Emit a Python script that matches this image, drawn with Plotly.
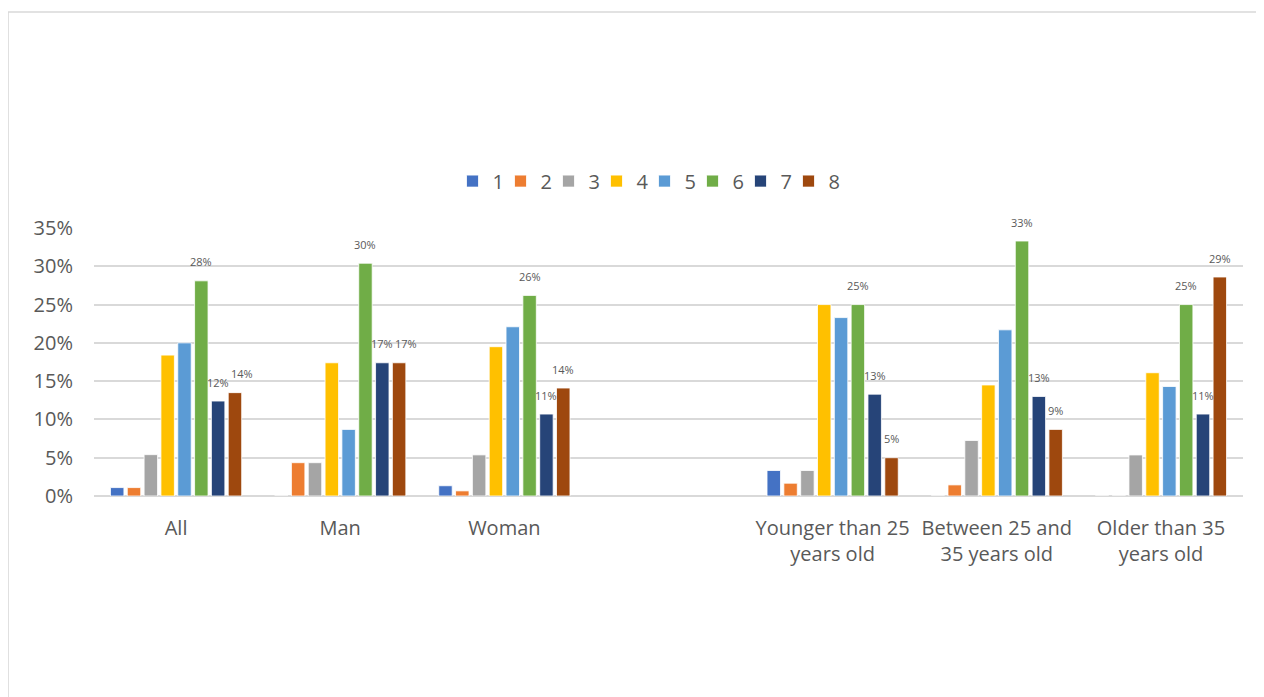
import plotly.graph_objects as go

categories = ["All", "Man", "Woman", " ",
              "Younger than 25<br>years old",
              "Between 25 and<br>35 years old",
              "Older than 35<br>years old"]

series_names = ["1", "2", "3", "4", "5", "6", "7", "8"]
colors = ["#4472C4", "#ED7D31", "#A5A5A5", "#FFC000",
          "#5B9BD5", "#70AD47", "#264478", "#9E480E"]

# values per series, one per category (blank category = None)
s1 = [0.011, 0.0, 0.0134, None, 0.0333, 0.0, 0.0]
s2 = [0.011, 0.0435, 0.0067, None, 0.0167, 0.0145, 0.0]
s3 = [0.054, 0.0435, 0.0537, None, 0.0333, 0.0725, 0.0536]
s4 = [0.184, 0.174, 0.195, None, 0.25, 0.145, 0.161]
s5 = [0.200, 0.087, 0.221, None, 0.233, 0.217, 0.143]
s6 = [0.281, 0.304, 0.262, None, 0.25, 0.333, 0.25]
s7 = [0.124, 0.174, 0.107, None, 0.133, 0.130, 0.107]
s8 = [0.135, 0.174, 0.141, None, 0.05, 0.087, 0.286]

series_values = [s1, s2, s3, s4, s5, s6, s7, s8]
labelled = ["6", "7", "8"]

text_color = "#595959"
grid_color = "#D9D9D9"

W, H = 1264, 697
ML, MR, MT, MB = 86, 29, 220, 209
BARGAP = 0.18
YMAX = 0.35

fig = go.Figure()
for name, vals, col in zip(series_names, series_values, colors):
    fig.add_trace(go.Bar(
        x=categories, y=vals, name=name,
        marker=dict(color=col, line=dict(color="white", width=0.8))))

# invisible spacer entry so the last legend label is not clipped
fig.add_trace(go.Scatter(x=[None], y=[None], name="", mode="markers",
                         marker=dict(color="rgba(0,0,0,0)", size=1,
                                     line=dict(width=0)),
                         hoverinfo="skip"))

# data labels for series 6, 7, 8 placed above bars (Excel style)
plot_w = W - ML - MR
plot_h = H - MT - MB
cat_px = plot_w / len(categories)
slot_px = cat_px * (1 - BARGAP) / len(series_names)
annotations = []
for name in labelled:
    i = series_names.index(name)
    vals = series_values[i]
    for j, v in enumerate(vals):
        if v is None:
            continue
        xshift = (i - (len(series_names) - 1) / 2) * slot_px
        # nudge series-8 label right when it would collide with series-7 label
        if name == "8":
            prev = series_values[i - 1][j]
            if prev is not None and abs(v - prev) * plot_h / YMAX < 16:
                xshift += 7
        annotations.append(dict(
            x=j, y=v, xref="x", yref="y", text=f"{round(v * 100):.0f}%",
            showarrow=False, xshift=xshift, yshift=19, yanchor="middle",
            font=dict(size=11, color=text_color, family="Open Sans")))

fig.update_layout(
    width=W, height=H,
    paper_bgcolor="white", plot_bgcolor="white",
    margin=dict(l=ML, r=MR, t=MT, b=MB),
    barmode="group", bargap=BARGAP, bargroupgap=0.2,
    font=dict(family="Open Sans", color=text_color, size=20),
    legend=dict(orientation="h", x=0.5, xanchor="center",
                y=1.175, yanchor="middle",
                font=dict(size=20, color=text_color),
                itemwidth=30, traceorder="normal",
                entrywidth=3, entrywidthmode="pixels"),
    showlegend=True,
    xaxis=dict(type="category", showgrid=False, zeroline=False,
               showline=False, ticks="", ticklabelstandoff=18,
               tickfont=dict(size=20, color=text_color)),
    yaxis=dict(range=[0, YMAX], dtick=0.05, tickformat=".0%",
               showgrid=True, gridcolor=grid_color, gridwidth=1.5,
               zeroline=True, zerolinecolor=grid_color, zerolinewidth=2,
               showline=False, ticks="", ticklabelstandoff=20,
               tickfont=dict(size=20, color=text_color)),
    annotations=annotations,
    shapes=[dict(type="rect", xref="paper", yref="paper",
                 x0=-0.0748, x1=1.06, y0=-0.80, y1=1.806,
                 line=dict(color=grid_color, width=1.5),
                 fillcolor="rgba(0,0,0,0)", layer="below")],
)

fig.write_html("out.html")
